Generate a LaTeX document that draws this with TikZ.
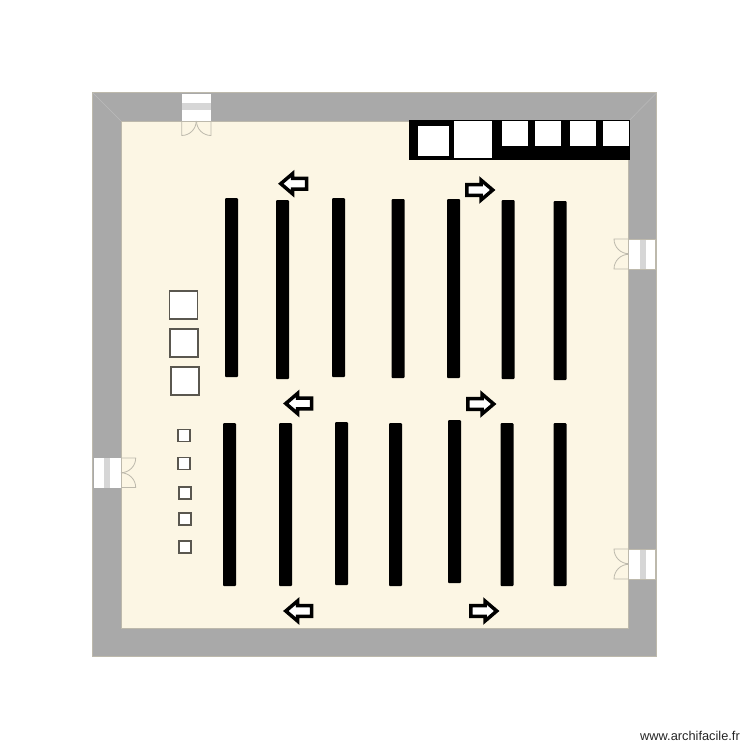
\documentclass[tikz,border=0pt]{standalone}
\usepackage{fontspec}
\setmainfont{Liberation Sans}
\definecolor{wallgrey}{HTML}{A9A9A9}
\definecolor{floorcream}{HTML}{FCF6E4}
\definecolor{doorline}{HTML}{BDB9AC}
\definecolor{bandgrey}{HTML}{D6D6D6}
\definecolor{boxline}{HTML}{5A574F}
\definecolor{mitreline}{HTML}{BBBBBB}
\tikzset{
  wall/.style={fill=wallgrey,draw=doorline,line width=0.8pt},
  floorarea/.style={fill=floorcream,draw=doorline,line width=0.8pt},
  rack/.style={fill=black,draw=none,rounded corners=1pt},
  bigbox/.style={fill=white,draw=boxline,line width=1.8pt},
  smallbox/.style={fill=white,draw=boxline,line width=1.7pt},
  whitecell/.style={fill=white,draw=none},
  leaf/.style={draw=doorline,line width=0.8pt},
  band/.style={fill=bandgrey,draw=none},
  flow/.style={fill=white,draw=black,line width=3.5pt,miter limit=10}
}
\newcommand{\rackat}[3]{\path[rack] (#1-6.5,#2) rectangle (#1+6.5,#3);}
\newcommand{\flowleft}[2]{\begin{scope}[shift={(#1,#2)}]\path[flow] (3.8,0) -- (15.5,-10) -- (15.5,-5.3) -- (29.7,-5.3) -- (29.7,5.3) -- (15.5,5.3) -- (15.5,10) -- cycle;\end{scope}}
\newcommand{\flowright}[2]{\begin{scope}[shift={(#1,#2)}]\path[flow] (28.2,0) -- (16.5,-10) -- (16.5,-5.3) -- (2.3,-5.3) -- (2.3,5.3) -- (16.5,5.3) -- (16.5,10) -- cycle;\end{scope}}
\begin{document}
\begin{tikzpicture}[x=1pt,y=-1pt]
\useasboundingbox (0,0) rectangle (750,750);
% walls and floor
\path[wall] (92.8,92.8) rectangle (656.6,656.6);
\draw[mitreline,line width=0.5pt] (92.8,92.8) -- (121,121) (656.6,92.8) -- (628.7,121);
\path[floorarea] (121,121) rectangle (628.7,628.7);
% top right block
\path[fill=black] (409,120) rectangle (630,159.5);
\path[whitecell] (417.7,125.7) rectangle (448.7,156.3);
\path[whitecell] (454,120.5) rectangle (491.7,157.7);
\path[whitecell] (501.7,120.5) rectangle (528,145.7);
\path[whitecell] (535.3,120.5) rectangle (561.3,145.7);
\path[whitecell] (570,120.5) rectangle (596,145.7);
\path[whitecell] (603,120.5) rectangle (629,145.7);
% racks upper row
\rackat{231.5}{198}{377}
\rackat{282.5}{200}{379}
\rackat{338.5}{198}{377}
\rackat{398}{199}{378}
\rackat{453.5}{199}{378}
\rackat{508}{200}{379}
\rackat{560}{201}{380}
% racks lower row
\rackat{229.5}{423}{586}
\rackat{285.5}{423}{586}
\rackat{341.5}{422}{585}
\rackat{395.5}{423}{586}
\rackat{454.5}{420}{583}
\rackat{507}{423}{586}
\rackat{560}{423}{586}
% flow arrows
\flowleft{277}{183.7}
\flowleft{282}{403.5}
\flowleft{282}{611}
\flowright{464.5}{190}
\flowright{465.5}{404}
\flowright{468.5}{611}
% boxes on the left
\path[bigbox] (169.5,291) rectangle (197.5,319);
\path[bigbox] (170,328.7) rectangle (198,356.7);
\path[bigbox] (171,366.7) rectangle (199,394.7);
\path[smallbox] (178,429.5) rectangle (190,441.5);
\path[smallbox] (178,457.5) rectangle (190,469.5);
\path[smallbox] (178.7,487) rectangle (190.7,499);
\path[smallbox] (179,512.7) rectangle (191,524.7);
\path[smallbox] (179,540.7) rectangle (191,552.7);
% top door
\path[whitecell] (181.7,94) rectangle (210.7,120.5);
\path[band] (181.7,103.3) rectangle (210.7,110);
\path[leaf] (181.7,121) -- (181.7,135.5) arc[start angle=90,end angle=0,radius=14.5];
\path[leaf] (211,121) -- (211,135.5) arc[start angle=90,end angle=180,radius=14.5];
% right door, upper
\path[whitecell] (629,239) rectangle (655.7,269);
\path[band] (640,239) rectangle (646,269);
\path[leaf] (628.7,239) -- (614,239) arc[start angle=180,end angle=90,radius=14.7];
\path[leaf] (628.7,269) -- (614,269) arc[start angle=180,end angle=270,radius=14.7];
\path[leaf] (628.7,239) rectangle (655.7,269);
% right door, lower
\path[whitecell] (629,549) rectangle (655.7,579);
\path[band] (640,549) rectangle (646,579);
\path[leaf] (628.7,549) -- (614,549) arc[start angle=180,end angle=90,radius=14.7];
\path[leaf] (628.7,579) -- (614,579) arc[start angle=180,end angle=270,radius=14.7];
\path[leaf] (628.7,549) rectangle (655.7,579);
% left door
\path[whitecell] (93.5,458) rectangle (120.5,487.5);
\path[band] (104,458) rectangle (110,487.5);
\path[leaf] (121,458) -- (135.7,458) arc[start angle=0,end angle=90,radius=14.7];
\path[leaf] (121,487.5) -- (135.7,487.5) arc[start angle=0,end angle=-90,radius=14.7];
% watermark
\node[anchor=base west,inner sep=0pt,text=black!85,font=\fontsize{12.8pt}{14pt}\selectfont] (mark) at (640,740) {www.archifacile.fr};
\end{tikzpicture}
\end{document}
